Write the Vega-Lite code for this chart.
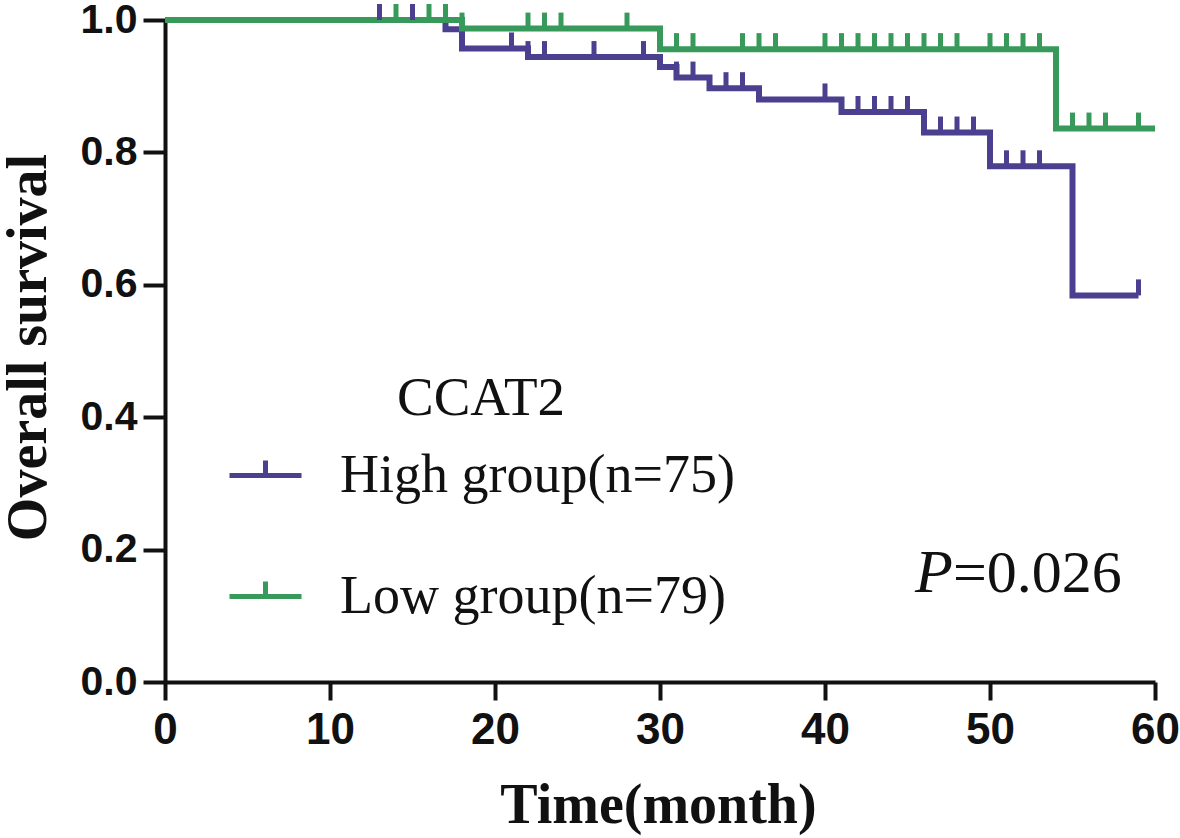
{
  "$schema": "https://vega.github.io/schema/vega-lite/v6.json",
  "width": 990,
  "height": 662,
  "autosize": {"type": "none"},
  "padding": {"left": 165, "top": 20, "right": 25, "bottom": 156},
  "background": "white",
  "config": {
    "view": {"stroke": null},
    "axis": {
      "grid": false,
      "domainColor": "#111111",
      "domainWidth": 4,
      "tickColor": "#111111",
      "tickWidth": 4,
      "labelFont": "Liberation Sans",
      "labelFontWeight": "bold",
      "labelColor": "#111111",
      "titleFont": "Liberation Serif",
      "titleFontWeight": "bold",
      "titleColor": "#111111"
    }
  },
  "datasets": {
    "curve": [
      {"group": "High group(n=75)", "time": 0, "surv": 1.0},
      {"group": "High group(n=75)", "time": 17, "surv": 0.986},
      {"group": "High group(n=75)", "time": 18, "surv": 0.957},
      {"group": "High group(n=75)", "time": 22, "surv": 0.944},
      {"group": "High group(n=75)", "time": 30, "surv": 0.929},
      {"group": "High group(n=75)", "time": 31, "surv": 0.913},
      {"group": "High group(n=75)", "time": 33, "surv": 0.897},
      {"group": "High group(n=75)", "time": 36, "surv": 0.880},
      {"group": "High group(n=75)", "time": 41, "surv": 0.861},
      {"group": "High group(n=75)", "time": 46, "surv": 0.830},
      {"group": "High group(n=75)", "time": 50, "surv": 0.779},
      {"group": "High group(n=75)", "time": 55, "surv": 0.584},
      {"group": "High group(n=75)", "time": 59, "surv": 0.584},
      {"group": "Low group(n=79)", "time": 0, "surv": 1.0},
      {"group": "Low group(n=79)", "time": 18, "surv": 0.987},
      {"group": "Low group(n=79)", "time": 30, "surv": 0.956},
      {"group": "Low group(n=79)", "time": 54, "surv": 0.836},
      {"group": "Low group(n=79)", "time": 60, "surv": 0.836}
    ],
    "censor": [
      {"group": "High group(n=75)", "time": 13, "surv": 1.0},
      {"group": "High group(n=75)", "time": 15, "surv": 1.0},
      {"group": "High group(n=75)", "time": 21, "surv": 0.957},
      {"group": "High group(n=75)", "time": 22, "surv": 0.944},
      {"group": "High group(n=75)", "time": 23, "surv": 0.944},
      {"group": "High group(n=75)", "time": 26, "surv": 0.944},
      {"group": "High group(n=75)", "time": 29, "surv": 0.944},
      {"group": "High group(n=75)", "time": 31, "surv": 0.913},
      {"group": "High group(n=75)", "time": 32, "surv": 0.913},
      {"group": "High group(n=75)", "time": 34, "surv": 0.897},
      {"group": "High group(n=75)", "time": 35, "surv": 0.897},
      {"group": "High group(n=75)", "time": 40, "surv": 0.880},
      {"group": "High group(n=75)", "time": 42, "surv": 0.861},
      {"group": "High group(n=75)", "time": 43, "surv": 0.861},
      {"group": "High group(n=75)", "time": 44, "surv": 0.861},
      {"group": "High group(n=75)", "time": 45, "surv": 0.861},
      {"group": "High group(n=75)", "time": 47, "surv": 0.830},
      {"group": "High group(n=75)", "time": 48, "surv": 0.830},
      {"group": "High group(n=75)", "time": 49, "surv": 0.830},
      {"group": "High group(n=75)", "time": 51, "surv": 0.779},
      {"group": "High group(n=75)", "time": 52, "surv": 0.779},
      {"group": "High group(n=75)", "time": 53, "surv": 0.779},
      {"group": "High group(n=75)", "time": 59, "surv": 0.584},
      {"group": "Low group(n=79)", "time": 14, "surv": 1.0},
      {"group": "Low group(n=79)", "time": 16, "surv": 1.0},
      {"group": "Low group(n=79)", "time": 17, "surv": 1.0},
      {"group": "Low group(n=79)", "time": 18, "surv": 0.987},
      {"group": "Low group(n=79)", "time": 22, "surv": 0.987},
      {"group": "Low group(n=79)", "time": 23, "surv": 0.987},
      {"group": "Low group(n=79)", "time": 24, "surv": 0.987},
      {"group": "Low group(n=79)", "time": 28, "surv": 0.987},
      {"group": "Low group(n=79)", "time": 31, "surv": 0.956},
      {"group": "Low group(n=79)", "time": 32, "surv": 0.956},
      {"group": "Low group(n=79)", "time": 35, "surv": 0.956},
      {"group": "Low group(n=79)", "time": 36, "surv": 0.956},
      {"group": "Low group(n=79)", "time": 37, "surv": 0.956},
      {"group": "Low group(n=79)", "time": 40, "surv": 0.956},
      {"group": "Low group(n=79)", "time": 41, "surv": 0.956},
      {"group": "Low group(n=79)", "time": 42, "surv": 0.956},
      {"group": "Low group(n=79)", "time": 43, "surv": 0.956},
      {"group": "Low group(n=79)", "time": 44, "surv": 0.956},
      {"group": "Low group(n=79)", "time": 45, "surv": 0.956},
      {"group": "Low group(n=79)", "time": 46, "surv": 0.956},
      {"group": "Low group(n=79)", "time": 47, "surv": 0.956},
      {"group": "Low group(n=79)", "time": 48, "surv": 0.956},
      {"group": "Low group(n=79)", "time": 50, "surv": 0.956},
      {"group": "Low group(n=79)", "time": 51, "surv": 0.956},
      {"group": "Low group(n=79)", "time": 52, "surv": 0.956},
      {"group": "Low group(n=79)", "time": 53, "surv": 0.956},
      {"group": "Low group(n=79)", "time": 55, "surv": 0.836},
      {"group": "Low group(n=79)", "time": 56, "surv": 0.836},
      {"group": "Low group(n=79)", "time": 57, "surv": 0.836},
      {"group": "Low group(n=79)", "time": 59, "surv": 0.836}
    ],
    "ptext": [{"p": "P", "rest": "=0.026"}]
  },
  "layer": [
    {
      "data": {"name": "curve"},
      "mark": {"type": "line", "interpolate": "step-after", "strokeWidth": 6, "strokeJoin": "miter"},
      "encoding": {
        "x": {
          "field": "time", "type": "quantitative",
          "scale": {"domain": [0, 60], "nice": false, "zero": false},
          "axis": {
            "values": [0, 10, 20, 30, 40, 50, 60],
            "title": "Time(month)",
            "titleFontSize": 56,
            "labelFontSize": 44,
            "tickSize": 18,
            "labelPadding": 8,
            "labelFlush": false,
            "titleX": 493,
            "titleY": 140,
            "titleBaseline": "alphabetic",
            "titleAlign": "center"
          }
        },
        "y": {
          "field": "surv", "type": "quantitative",
          "scale": {"domain": [0, 1], "nice": false},
          "axis": {
            "values": [0, 0.2, 0.4, 0.6, 0.8, 1.0],
            "format": ".1f",
            "title": "Overall survival",
            "titleFontSize": 56,
            "labelFontSize": 41,
            "tickSize": 22,
            "labelPadding": 6,
            "labelFlush": false,
            "titleAngle": -90,
            "titleX": -120,
            "titleY": 327,
            "titleBaseline": "alphabetic",
            "titleAlign": "center"
          }
        },
        "color": {
          "field": "group", "type": "nominal",
          "scale": {"domain": ["High group(n=75)", "Low group(n=79)"], "range": ["#4b3f8f", "#379a5b"]},
          "legend": {
            "title": "CCAT2",
            "orient": "none",
            "legendX": 62,
            "legendY": 352,
            "padding": 0,
            "titleFont": "Liberation Serif",
            "titleFontWeight": "normal",
            "titleFontSize": 55,
            "titleColor": "#111111",
            "titleAnchor": "middle",
            "titlePadding": 10,
            "labelFont": "Liberation Serif",
            "labelFontSize": 54,
            "labelColor": "#111111",
            "labelOffset": 36,
            "labelLimit": 700,
            "symbolType": "M-1,0H1M0,0V-0.42",
            "symbolSize": 5184,
            "symbolStrokeWidth": 5,
            "rowPadding": 55
          }
        }
      }
    },
    {
      "data": {"name": "censor"},
      "mark": {"type": "rule", "strokeWidth": 5, "y2Offset": -16},
      "encoding": {
        "x": {"field": "time", "type": "quantitative"},
        "y": {"field": "surv", "type": "quantitative"},
        "y2": {"field": "surv"},
        "color": {"field": "group", "type": "nominal"}
      }
    },
    {
      "data": {"name": "ptext"},
      "mark": {"type": "text", "font": "Liberation Serif", "fontStyle": "italic", "fontSize": 62, "align": "left", "baseline": "alphabetic", "color": "#111111"},
      "encoding": {
        "x": {"datum": 45.45, "type": "quantitative"},
        "y": {"datum": 0.136, "type": "quantitative"},
        "text": {"field": "p"}
      }
    },
    {
      "data": {"name": "ptext"},
      "mark": {"type": "text", "font": "Liberation Serif", "fontSize": 60, "align": "left", "baseline": "alphabetic", "color": "#111111"},
      "encoding": {
        "x": {"datum": 47.75, "type": "quantitative"},
        "y": {"datum": 0.136, "type": "quantitative"},
        "text": {"field": "rest"}
      }
    }
  ]
}
